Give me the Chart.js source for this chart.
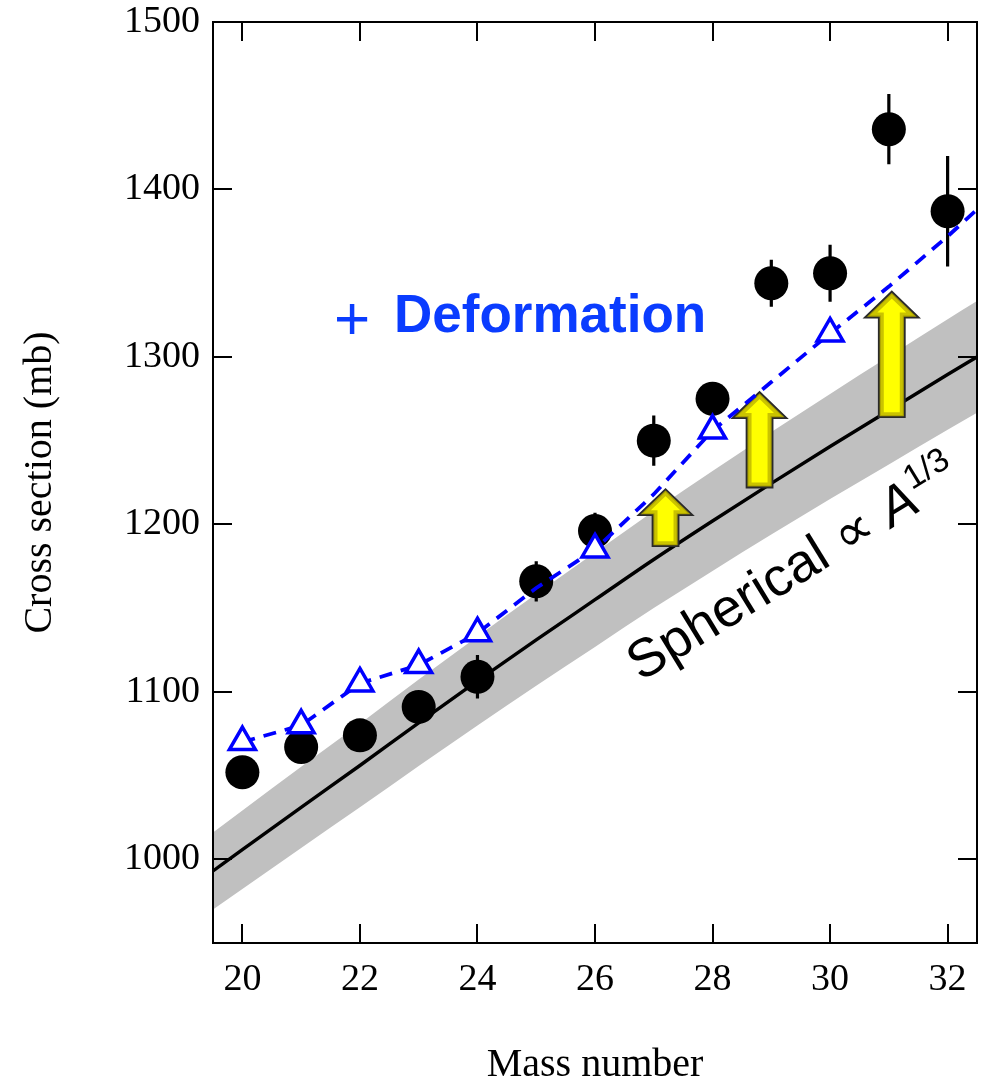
<!DOCTYPE html>
<html><head><meta charset="utf-8">
<script src="https://cdn.jsdelivr.net/npm/chart.js@4"></script>
<style>html,body{margin:0;padding:0;background:#fff;}canvas{display:block;}</style>
</head><body>
<canvas id="c" width="981" height="1085"></canvas>
<script>
// ---- data ----
const massNumbers = [20, 21, 22, 23, 24, 25, 26, 27, 28, 29, 30, 31, 32];
const crossSection = [1052, 1067, 1074, 1091, 1109, 1166, 1196, 1250, 1275, 1344, 1350, 1436, 1387];
const crossSectionError = [6, 6, 6, 7, 13, 12, 11, 15, 8, 14, 17, 21, 33];

const deformationMass = [20, 21, 22, 23, 24, 25, 26, 27, 28, 29, 30, 31, 32, 32.5];
const deformationValues = [1070, 1080, 1105, 1116, 1135, 1162, 1185, 1218, 1256, 1285, 1314, 1342, 1372, 1388];
const triangleMass = [20, 21, 22, 23, 24, 26, 28, 30];

const sphericalMass = [19.5, 20, 21, 22, 23, 24, 25, 26, 27, 28, 29, 30, 31, 32, 32.5];
const sphericalValues = [993, 1005.7, 1031, 1056, 1081.5, 1106.5, 1131, 1155, 1179, 1202, 1224.5, 1246.5, 1268, 1289.5, 1300];
const bandUpper = [1016, 1029.1, 1055.2, 1081, 1107.3, 1133.1, 1158.4, 1183.2, 1208, 1231.8, 1255.1, 1277.9, 1300.2, 1322.5, 1333.4];
const bandLower = [970, 982.3, 1006.8, 1031, 1055.7, 1079.9, 1103.6, 1126.8, 1150, 1172.2, 1193.9, 1215.1, 1235.8, 1256.5, 1266.6];

const arrowMass = [27.2, 28.8, 31.05];
const arrowFrom = [1187, 1222, 1264];
const arrowTo = [1221, 1279, 1339];

const xTickValues = [20, 22, 24, 26, 28, 30, 32];
const yTickValues = [1000, 1100, 1200, 1300, 1400, 1500];

// ---- helpers ----
const pts = (xs, ys) => xs.map((x, i) => ({x: x, y: ys[i]}));
const trianglePoints = triangleMass.map(m => ({x: m, y: deformationValues[deformationMass.indexOf(m)]}));

const errorBarPlugin = {
  id: 'errorBars',
  beforeDatasetDraw(chart, args) {
    if (args.index !== 2) return;
    const {ctx, scales: {x, y}} = chart;
    ctx.save();
    ctx.strokeStyle = '#000';
    ctx.lineWidth = 3.2;
    ctx.beginPath();
    massNumbers.forEach((m, i) => {
      const px = x.getPixelForValue(m);
      ctx.moveTo(px, y.getPixelForValue(crossSection[i] - crossSectionError[i]));
      ctx.lineTo(px, y.getPixelForValue(crossSection[i] + crossSectionError[i]));
    });
    ctx.stroke();
    ctx.restore();
  }
};

function drawArrow(ctx, cx, yBase, yTip) {
  const sw = 13, hw = 27, hh = 26;
  const yHead = yTip + hh;
  ctx.beginPath();
  ctx.moveTo(cx - sw, yBase);
  ctx.lineTo(cx - sw, yHead);
  ctx.lineTo(cx - hw, yHead);
  ctx.lineTo(cx, yTip);
  ctx.lineTo(cx + hw, yHead);
  ctx.lineTo(cx + sw, yHead);
  ctx.lineTo(cx + sw, yBase);
  ctx.closePath();
  ctx.fillStyle = '#ffff00';
  ctx.fill();
  ctx.save();
  ctx.clip();
  ctx.lineJoin = 'miter';
  ctx.strokeStyle = 'rgba(150,135,0,0.5)';
  ctx.lineWidth = 10;
  ctx.stroke();
  ctx.strokeStyle = 'rgba(120,105,0,0.4)';
  ctx.lineWidth = 4;
  ctx.stroke();
  ctx.restore();
  ctx.strokeStyle = '#2a2a2a';
  ctx.lineWidth = 1.8;
  ctx.stroke();
}

const arrowPlugin = {
  id: 'arrows',
  afterDatasetDraw(chart, args) {
    if (args.index !== 2) return;
    const {ctx, scales: {x, y}} = chart;
    ctx.save();
    arrowMass.forEach((m, i) => {
      drawArrow(ctx, x.getPixelForValue(m), y.getPixelForValue(arrowFrom[i]), y.getPixelForValue(arrowTo[i]));
    });
    ctx.restore();
  }
};

const framePlugin = {
  id: 'frame',
  afterDatasetsDraw(chart) {
    const {ctx, chartArea: a, scales: {x, y}} = chart;
    ctx.save();
    ctx.strokeStyle = '#000';
    ctx.lineWidth = 2;
    ctx.strokeRect(a.left, a.top, a.right - a.left, a.bottom - a.top);
    const L = 19;
    ctx.beginPath();
    xTickValues.forEach(v => {
      const px = Math.round(x.getPixelForValue(v));
      ctx.moveTo(px, a.bottom); ctx.lineTo(px, a.bottom - L);
      ctx.moveTo(px, a.top); ctx.lineTo(px, a.top + L);
    });
    yTickValues.forEach(v => {
      const py = Math.round(y.getPixelForValue(v));
      ctx.moveTo(a.left, py); ctx.lineTo(a.left + L, py);
      ctx.moveTo(a.right, py); ctx.lineTo(a.right - L, py);
    });
    ctx.stroke();
    ctx.restore();
  }
};

const labelPlugin = {
  id: 'labels',
  afterDraw(chart) {
    const {ctx, scales: {x, y}} = chart;
    ctx.save();
    ctx.textBaseline = 'alphabetic';
    ctx.textAlign = 'left';
    // + Deformation
    ctx.fillStyle = '#0a3cff';
    ctx.font = '62px "Liberation Sans", Arial, sans-serif';
    ctx.fillText('+', x.getPixelForValue(21.56), y.getPixelForValue(1310.7));
    ctx.font = 'bold 53px "Liberation Sans", Arial, sans-serif';
    ctx.fillText('Deformation', x.getPixelForValue(22.58), y.getPixelForValue(1314.9));
    // Spherical ∝ A^1/3
    ctx.fillStyle = '#000';
    ctx.translate(x.getPixelForValue(26.78), y.getPixelForValue(1105.9));
    ctx.rotate(-31.5 * Math.PI / 180);
    ctx.font = '54px "Liberation Sans", Arial, sans-serif';
    const t1 = 'Spherical \u221D ';
    ctx.fillText(t1, 0, 0);
    let w = ctx.measureText(t1).width;
    ctx.font = 'italic 54px "Liberation Sans", Arial, sans-serif';
    ctx.fillText('A', w, 0);
    w += ctx.measureText('A').width + 1;
    ctx.font = '34px "Liberation Sans", Arial, sans-serif';
    ctx.fillText('1/3', w, -22);
    ctx.restore();
  }
};

const serif = '"Liberation Serif", "Times New Roman", serif';

new Chart(document.getElementById('c'), {
  type: 'scatter',
  data: {
    datasets: [
      { // 0: model triangles (top)
        data: trianglePoints,
        pointStyle: 'triangle', pointRadius: 15, pointBorderWidth: 3.5,
        pointBorderColor: '#0000ff', pointBackgroundColor: '#ffffff', showLine: false
      },
      { // 1: deformation dashed line
        data: pts(deformationMass, deformationValues),
        showLine: true, borderColor: '#0000ff', borderWidth: 3.8, borderDash: [13, 9],
        pointRadius: 0, fill: false, tension: 0
      },
      { // 2: measured cross sections
        data: pts(massNumbers, crossSection),
        pointStyle: 'circle', pointRadius: 17, pointBackgroundColor: '#000',
        pointBorderWidth: 0, showLine: false
      },
      { // 3: spherical line
        data: pts(sphericalMass, sphericalValues),
        showLine: true, borderColor: '#000', borderWidth: 3.4, pointRadius: 0, fill: false,
        cubicInterpolationMode: 'monotone'
      },
      { // 4: band upper
        data: pts(sphericalMass, bandUpper),
        showLine: true, borderWidth: 0, borderColor: 'rgba(0,0,0,0)', pointRadius: 0,
        backgroundColor: '#c0c0c0', fill: '+1', cubicInterpolationMode: 'monotone'
      },
      { // 5: band lower
        data: pts(sphericalMass, bandLower),
        showLine: true, borderWidth: 0, borderColor: 'rgba(0,0,0,0)', pointRadius: 0, fill: false,
        cubicInterpolationMode: 'monotone'
      }
    ]
  },
  options: {
    responsive: false,
    animation: false,
    devicePixelRatio: 1,
    layout: { autoPadding: false, padding: { top: 22, right: 4, left: 0, bottom: 0 } },
    plugins: { legend: { display: false }, tooltip: { enabled: false } },
    scales: {
      x: {
        type: 'linear', min: 19.5, max: 32.5,
        afterBuildTicks: s => { s.ticks = xTickValues.map(v => ({value: v})); },
        afterFit: s => { s.height = 142; s.paddingLeft = 0; s.paddingRight = 0; },
        grid: { display: false, drawTicks: false },
        border: { display: false },
        ticks: { color: '#000', padding: 14, maxRotation: 0, autoSkip: false,
                 callback: v => String(v),
                 font: { family: serif, size: 38 } },
        title: { display: true, text: 'Mass number', color: '#000', padding: 0,
                 font: { family: serif, size: 40, lineHeight: 1 } }
      },
      y: {
        type: 'linear', min: 950, max: 1500,
        afterBuildTicks: s => { s.ticks = yTickValues.map(v => ({value: v})); },
        afterFit: s => { s.width = 213; s.paddingTop = 0; s.paddingBottom = 0; },
        grid: { display: false, drawTicks: false },
        border: { display: false },
        ticks: { color: '#000', padding: 13, autoSkip: false,
                 callback: v => String(v),
                 font: { family: serif, size: 38 } },
        title: { display: true, text: 'Cross section (mb)', color: '#000', padding: { top: 20, bottom: 0 },
                 font: { family: serif, size: 40, lineHeight: 1 } }
      }
    }
  },
  plugins: [errorBarPlugin, arrowPlugin, framePlugin, labelPlugin]
});
</script>
</body></html>
